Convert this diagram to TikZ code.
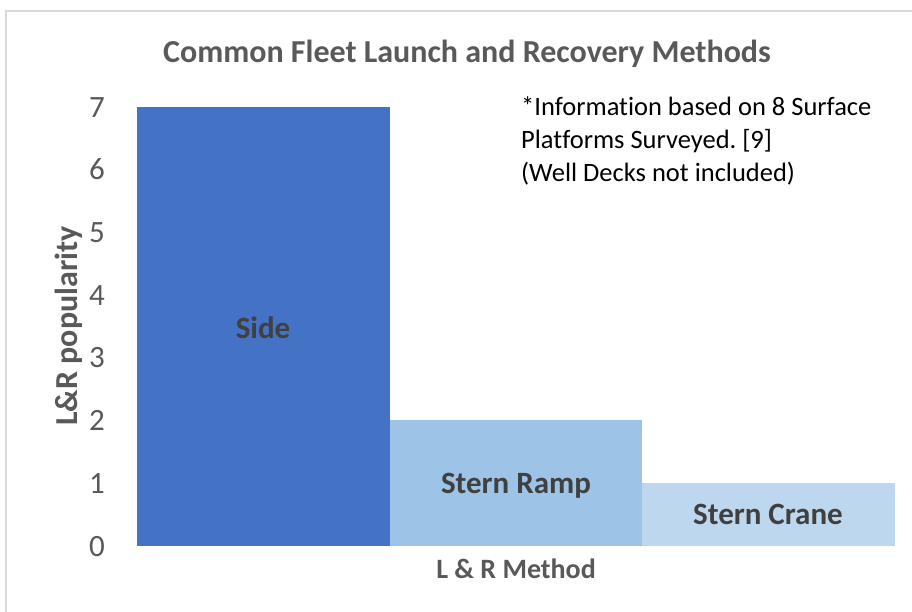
\documentclass[tikz,border=0pt]{standalone}
\usepackage{fontspec}
\setmainfont[Ligatures=NoCommon]{Carlito}
\frenchspacing
\definecolor{sidec}{HTML}{4472C4}
\definecolor{rampc}{HTML}{9DC3E6}
\definecolor{cranec}{HTML}{BDD7EE}
\definecolor{framec}{HTML}{D9D9D9}
\definecolor{axistext}{HTML}{595959}
\definecolor{labeltext}{HTML}{404040}
\begin{document}
\begin{tikzpicture}[x=1pt,y=-1pt,
  ticklab/.style={inner sep=0pt,anchor=base,text=axistext,font=\fontsize{31}{31}\selectfont},
  barlab/.style={inner sep=0pt,anchor=base,text=labeltext,font=\fontsize{31}{31}\selectfont\bfseries},
  axtitle/.style={inner sep=0pt,anchor=base,text=axistext,font=\fontsize{28}{28}\selectfont\bfseries},
  note/.style={inner sep=0pt,anchor=base west,text=black,font=\fontsize{26.5}{26.5}\selectfont}]
\useasboundingbox (0,0) rectangle (912,611);
\fill[white] (0,0) rectangle (912,611);
\draw[framec,line width=1.5pt] (6,615) -- (6,11) -- (915,11);
% title
\node[axtitle,font=\fontsize{32}{32}\selectfont\bfseries] (title) at (467,62) {Common Fleet Launch and Recovery Methods};
% bars
\fill[sidec] (137,546) rectangle (390,107);
\fill[rampc] (390,546) rectangle (642,420);
\fill[cranec] (642,546) rectangle (895,483);
% bar labels
\node[barlab] (side) at (263,338) {Side};
\node[barlab] (ramp) at (516,493) {Stern Ramp};
\node[barlab] (crane) at (768,524) {Stern Crane};
% ticks
\foreach \v in {0,...,7}{
  \node[ticklab] (t\v) at (97,{556-62.7*\v}) {\v};
}
% axis titles
\node[axtitle,rotate=90,font=\fontsize{32}{32}\selectfont\bfseries] (ytitle) at (77,326) {L\&R popularity};
\node[axtitle] (xtitle) at (516,578) {L \& R Method};
% note
\node[note] (n1) at (521,115) {*Information based on 8 Surface};
\node[note] (n2) at (521,148) {Platforms Surveyed. [9]};
\node[note] (n3) at (521,181) {(Well Decks not included)};
\end{tikzpicture}
\end{document}
